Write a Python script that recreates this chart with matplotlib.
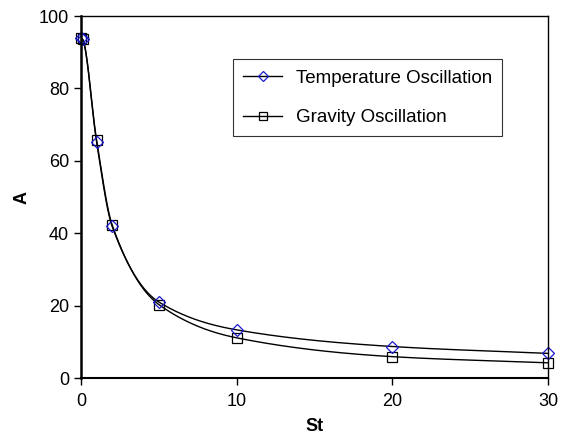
import numpy as np
import matplotlib
matplotlib.use("Agg")
import matplotlib.pyplot as plt

plt.rcParams['font.family'] = ['Liberation Sans', 'DejaVu Sans']

# data
st = [0, 0.1, 1, 2, 5, 10, 20, 30]
temp_amp = [94.0, 93.6, 65.2, 41.9, 21.0, 13.3, 8.7, 6.8]
grav_amp = [94.0, 93.6, 65.8, 42.3, 20.3, 11.1, 5.9, 4.2]


def pchip(x, y, xs):
    # monotone cubic curve through the points (only used for the line)
    x = np.asarray(x, float)
    y = np.asarray(y, float)
    h = np.diff(x)
    d = np.diff(y) / h
    m = np.zeros_like(y)
    for k in range(1, len(x) - 1):
        if d[k - 1] * d[k] > 0:
            w1 = 2 * h[k] + h[k - 1]
            w2 = h[k] + 2 * h[k - 1]
            m[k] = (w1 + w2) / (w1 / d[k - 1] + w2 / d[k])
    m[0] = d[0]
    m[-1] = d[-1]
    idx = np.clip(np.searchsorted(x, xs) - 1, 0, len(x) - 2)
    t = (xs - x[idx]) / h[idx]
    h00 = 2 * t**3 - 3 * t**2 + 1
    h10 = t**3 - 2 * t**2 + t
    h01 = -2 * t**3 + 3 * t**2
    h11 = t**3 - t**2
    return (h00 * y[idx] + h10 * h[idx] * m[idx]
            + h01 * y[idx + 1] + h11 * h[idx] * m[idx + 1])


fig = plt.figure(figsize=(5.68, 4.36), dpi=100)
ax = fig.add_axes([0.1426, 0.133, 0.8222, 0.8303])

xs = np.linspace(0, 30, 600)
ax.plot(xs, pchip(st, temp_amp, xs), color='black', lw=1.0)
ax.plot(xs, pchip(st, grav_amp, xs), color='black', lw=1.0)
ax.plot(st, grav_amp, ls='none', marker='s', ms=7, mfc='none',
        mec='black', mew=0.9, clip_on=False)
ax.plot(st, temp_amp, ls='none', marker='D', ms=6, mfc='none',
        mec='#1a1ac8', mew=0.9, clip_on=False)

# legend handles
ax.plot([], [], color='black', lw=1.0, marker='D', ms=5, mfc='none',
        mec='#1a1ac8', mew=0.9, label='Temperature Oscillation')
ax.plot([], [], color='black', lw=1.0, marker='s', ms=5.5, mfc='none',
        mec='black', mew=0.9, label='Gravity Oscillation')
handles, labels = ax.get_legend_handles_labels()
leg = ax.legend(handles, labels, loc='upper left',
                bbox_to_anchor=(0.325, 0.881), fontsize=13.5,
                frameon=True, fancybox=False, edgecolor='black',
                handlelength=2.1, labelspacing=1.2, borderpad=0.55,
                borderaxespad=0, handletextpad=0.7)
leg.get_frame().set_linewidth(0.8)

ax.set_xlim(0, 30)
ax.set_ylim(0, 100)
ax.set_xticks([0, 10, 20, 30])
ax.set_yticks([0, 20, 40, 60, 80, 100])
ax.tick_params(direction='out', length=5, width=1, labelsize=13,
               top=False, right=False)
ax.tick_params(axis='x', pad=5.5)
for s in ax.spines.values():
    s.set_linewidth(1.0)
ax.spines['left'].set_linewidth(1.8)
ax.spines['bottom'].set_linewidth(1.5)

ax.set_xlabel('St', fontsize=13, fontweight='bold', labelpad=6)
ax.set_ylabel('A', fontsize=13, fontweight='bold', labelpad=6)

fig.savefig('out.png', dpi=100)
